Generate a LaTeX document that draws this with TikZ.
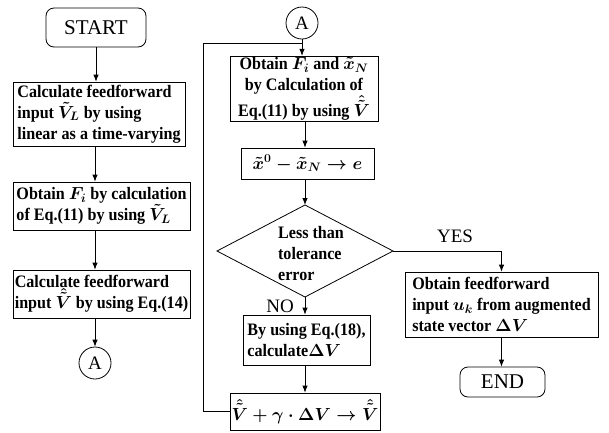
\RequirePackage{fix-cm}
\documentclass[tikz,border=0pt]{standalone}
\usepackage{amsmath}
\usepackage{fontspec}
\setmainfont[FakeStretch=0.92]{Liberation Serif}
\newfontfamily\termfont{Liberation Serif}
\usetikzlibrary{arrows.meta,calc}
\begin{document}
\begin{tikzpicture}[x=1pt,y=-1pt,
  box/.style={draw, line width=0.8pt, inner sep=1.5pt, font=\fontsize{17.5}{21}\selectfont\bfseries\boldmath, align=left},
  term/.style={draw, line width=0.8pt, rounded corners=8pt, font=\termfont\fontsize{21}{24}\selectfont},
  conn/.style={draw, line width=0.8pt, circle, minimum size=32pt, inner sep=0pt, font=\termfont\fontsize{19}{20}\selectfont},
  lbl/.style={font=\termfont\fontsize{19}{20}\selectfont},
  arr/.style={-{Latex[length=7pt,width=5.5pt]}, line width=0.8pt},
  ln/.style={line width=0.8pt}]
\useasboundingbox (0,0) rectangle (609,432);
\fill[white] (0,0) rectangle (609,432);
% left column
\node[term, minimum width=100pt, minimum height=39pt] (start) at (96,27.5) {START};
\node[box, minimum width=172pt, minimum height=64pt] (b1) at (99,114)
  {Calculate feedforward\\ input $\tilde{V}_L$ by using\\linear as a time-varying};
\node[box, minimum width=177pt, minimum height=48pt] (b2) at (101.5,206)
  {Obtain $F_i$ by calculation\\of Eq.(11) by using $\tilde{V}_L$};
\node[box, minimum width=177pt, minimum height=48pt] (b3) at (101.5,294)
  {Calculate feedforward\\input $\hat{\tilde{V}}$ by using Eq.(14)};
\node[conn] (a1) at (95,363) {A};
% right column
\node[conn] (a2) at (302,23) {A};
\node[box, minimum width=148pt, minimum height=58pt, align=center] (b4) at (304,89)
  {Obtain $F_i$ and $\tilde{x}_N$\\ by Calculation of\\ Eq.(11) by using $\hat{\tilde{V}}$};
\node[box, minimum width=133pt, minimum height=31pt] (b5) at (307.5,163.5)
  {$\tilde{x}^0-\tilde{x}_N\to e$};
% decision
\coordinate (dN) at (305,205);
\coordinate (dE) at (393,251);
\coordinate (dS) at (305,297);
\coordinate (dW) at (217,251);
\draw[ln] (dN) -- (dE) -- (dS) -- (dW) -- cycle;
\node[font=\fontsize{17.5}{21}\selectfont\bfseries, align=left] (dtext) at (311,254) {Less than\\tolerance\\error};
\node[box, minimum width=127pt, minimum height=50pt] (b6) at (306.5,340)
  {By using Eq.(18),\\calculate$\Delta V$};
\node[box, minimum width=134pt, minimum height=37pt] (b7) at (305,411.5)
  {$\hat{\tilde{V}}+\gamma\cdot\Delta V\to\hat{\tilde{V}}$};
\node[box, minimum width=193pt, minimum height=65pt] (b8) at (501.5,304.5)
  {Obtain feedforward\\ input $u_k$ from augmented\\ state vector $\Delta V$};
\node[term, minimum width=85pt, minimum height=30pt] (end) at (502.5,382) {END};
\node[lbl] (no) at (280,306) {NO};
\node[lbl] (yes) at (455,236) {YES};
% connectors
\draw[arr] (start.south) -- (start.south |- b1.north);
\draw[arr] ([xshift=-4pt]b1.south) -- ([xshift=-4pt]b1.south |- b2.north);
\draw[arr] (a1.north |- b2.south) -- (a1.north |- b3.north);
\draw[arr] (a1.north |- b3.south) -- (a1.north);
\draw[arr] (a2.south) -- (a2.south |- b4.north);
\draw[arr] (dN |- b4.south) -- (dN |- b5.north);
\draw[arr] (dN |- b5.south) -- (dN);
\draw[arr] (dS) -- (dS |- b6.north);
\draw[arr] (dS |- b6.south) -- (dS |- b7.north);
\coordinate (fb) at (203,411.5);
\coordinate (j) at (302,43);
\draw[ln] (b7.west) -- (fb) |- (j);
\draw[arr] (dE) -| (b8.north);
\draw[arr] (b8.south) -- (b8.south |- end.north);
\end{tikzpicture}
\end{document}
